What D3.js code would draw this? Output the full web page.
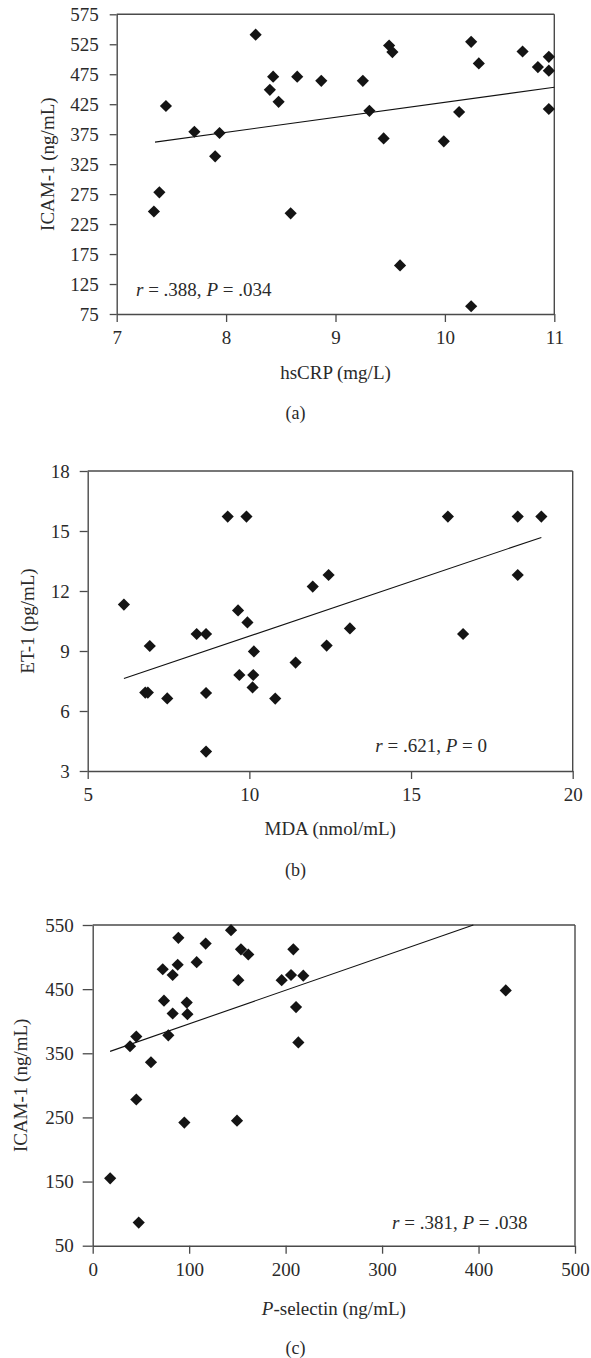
<!DOCTYPE html>
<html>
<head>
<meta charset="utf-8">
<script src="https://cdn.jsdelivr.net/npm/d3@7"></script>
<style>
  body { margin: 0; background: #fff; }
  text { font-family: 'Liberation Serif', 'Times New Roman', serif; fill: #2a2a2a; }
</style>
</head>
<body>
<svg width="591" height="1358"></svg>
<script>
// (a) hsCRP vs ICAM-1
const aHsCRP = [7.34, 7.39, 7.45, 7.71, 7.90, 7.94, 8.27, 8.40, 8.43, 8.48, 8.59, 8.65, 8.87, 9.25, 9.31,
  9.44, 9.49, 9.52, 9.59, 9.99, 10.13, 10.24, 10.24, 10.31, 10.71, 10.85, 10.95, 10.95, 10.95];
const aICAM = [246, 278, 422, 379, 338, 377, 541, 449, 471, 429, 243, 471, 464, 464, 414,
  368, 523, 512, 156, 363, 412, 529, 88, 493, 513, 487, 504, 481, 417];
const aTrend = [[7.35, 361.7], [11, 453.3]];
const aYTicks = [75, 125, 175, 225, 275, 325, 375, 425, 475, 525, 575];
const aXTicks = [7, 8, 9, 10, 11];

// (b) MDA vs ET-1
const bMDA = [6.12, 6.92, 6.78, 6.86, 7.46, 8.37, 8.66, 8.66, 8.66, 9.33, 9.91, 9.65, 9.94, 9.69, 10.12,
  10.14, 10.10, 10.80, 11.43, 12.39, 11.96, 12.45, 13.11, 16.14, 16.61, 18.30, 18.30, 19.03];
const bET1 = [11.32, 9.25, 6.92, 6.92, 6.63, 9.85, 9.85, 6.90, 3.97, 15.72, 15.72, 11.03, 10.43, 7.80, 7.80,
  8.98, 7.18, 6.62, 8.42, 9.27, 12.22, 12.80, 10.13, 15.72, 9.85, 15.72, 12.80, 15.72];
const bTrend = [[6.12, 7.62], [19.03, 14.68]];
const bYTicks = [3, 6, 9, 12, 15, 18];
const bXTicks = [5, 10, 15, 20];

// (c) P-selectin vs ICAM-1
const cPsel = [18.1, 47.7, 38.7, 45.2, 45.2, 60.4, 72.6, 73.9, 82.9, 97.5, 98.2, 78.4, 88.8, 88.1, 82.9,
  107.8, 117.1, 143.4, 153.7, 161.3, 151.0, 95.0, 149.6, 195.9, 205.6, 218.3, 208.0, 210.8, 213.2, 428.2];
const cICAM = [155, 86, 361, 376, 278, 336, 481, 432, 412, 429, 411, 378, 530, 488, 472,
  492, 521, 542, 512, 504, 464, 242, 245, 464, 472, 471, 512, 422, 367, 448];
const cTrend = [[18, 353], [394.6, 550]];
const cYTicks = [50, 150, 250, 350, 450, 550];
const cXTicks = [0, 100, 200, 300, 400, 500];

const svg = d3.select('svg');
const axisColor = '#4a4a4a';

const drawPanel = p => {
  const x = d3.scaleLinear().domain(p.xDomain).range([p.left, p.right]);
  const y = d3.scaleLinear().domain(p.yDomain).range([p.bottom, p.top]);
  const g = svg.append('g');

  // frame: top and right
  g.append('line').attr('x1', p.left).attr('x2', p.right).attr('y1', p.top).attr('y2', p.top)
    .attr('stroke', axisColor).attr('stroke-width', 1.4);
  g.append('line').attr('x1', p.right).attr('x2', p.right).attr('y1', p.top).attr('y2', p.bottom)
    .attr('stroke', axisColor).attr('stroke-width', 1.4);

  const yAxisG = g.append('g')
    .attr('transform', `translate(${p.left},0)`)
    .call(d3.axisLeft(y).tickValues(p.yTicks).tickFormat(d3.format('d'))
      .tickSize(p.tick).tickSizeOuter(0).tickPadding(p.yPad));
  const xAxisG = g.append('g')
    .attr('transform', `translate(0,${p.bottom})`)
    .call(d3.axisBottom(x).tickValues(p.xTicks).tickFormat(d3.format('d'))
      .tickSize(8).tickSizeOuter(0).tickPadding(9));

  [yAxisG, xAxisG].forEach(a => {
    a.attr('font-family', null).attr('font-size', null);
    a.selectAll('.domain').attr('stroke', axisColor).attr('stroke-width', 1.4);
    a.selectAll('.tick line').attr('stroke', axisColor).attr('stroke-width', 1.3);
    a.selectAll('.tick text').attr('fill', '#2a2a2a').style('font-size', '19px');
  });

  // trend line
  g.append('line')
    .attr('x1', x(p.trend[0][0])).attr('y1', y(p.trend[0][1]))
    .attr('x2', x(p.trend[1][0])).attr('y2', y(p.trend[1][1]))
    .attr('stroke', '#111').attr('stroke-width', 1.1);

  // diamonds
  const diamond = d3.symbol().type(d3.symbolSquare).size(74);
  g.selectAll('path.pt').data(p.xs)
    .enter().append('path')
    .attr('class', 'pt')
    .attr('d', diamond)
    .attr('fill', '#141414')
    .attr('transform', (d, i) => `translate(${x(d)},${y(p.ys[i])}) rotate(45)`);

  // axis titles
  g.append('text')
    .attr('transform', `translate(${p.yTitleX},${(p.top + p.bottom) / 2}) rotate(-90)`)
    .attr('text-anchor', 'middle').attr('dominant-baseline', 'central')
    .style('font-size', '19px')
    .text(p.yTitle);

  const xt = g.append('text')
    .attr('x', (p.left + p.right) / 2).attr('y', p.bottom + p.xTitleDy)
    .attr('text-anchor', 'middle').attr('dominant-baseline', 'central')
    .style('font-size', '19px');
  p.xTitle.forEach(s => xt.append('tspan').attr('font-style', s.i ? 'italic' : null).text(s.t));

  // r, P annotation
  const an = g.append('text')
    .attr('x', p.annX).attr('y', p.annY)
    .attr('text-anchor', p.annAnchor)
    .style('font-size', '19px');
  p.ann.forEach(s => an.append('tspan').attr('font-style', s.i ? 'italic' : null).text(s.t));

  // panel letter
  svg.append('text')
    .attr('x', 295.5).attr('y', p.labelY)
    .attr('text-anchor', 'middle').attr('dominant-baseline', 'central')
    .style('font-size', '18px')
    .text(p.label);
};

drawPanel({
  xs: aHsCRP, ys: aICAM, trend: aTrend, xTicks: aXTicks, yTicks: aYTicks,
  xDomain: [7, 11], yDomain: [75, 575],
  left: 116.7, right: 554.3, top: 14.3, bottom: 314,
  tick: 7, yPad: 11, yTitleX: 47, xTitleDy: 58,
  yTitle: 'ICAM-1 (ng/mL)', xTitle: [{ t: 'hsCRP (mg/L)' }],
  ann: [{ t: 'r', i: true }, { t: ' = .388, ' }, { t: 'P', i: true }, { t: ' = .034' }],
  annX: 136, annY: 296, annAnchor: 'start',
  label: '(a)', labelY: 413
});

drawPanel({
  xs: bMDA, ys: bET1, trend: bTrend, xTicks: bXTicks, yTicks: bYTicks,
  xDomain: [5, 20], yDomain: [3, 18],
  left: 87.7, right: 572.7, top: 471, bottom: 771,
  tick: 8, yPad: 10, yTitleX: 27, xTitleDy: 57,
  yTitle: 'ET-1 (pg/mL)', xTitle: [{ t: 'MDA (nmol/mL)' }],
  ann: [{ t: 'r', i: true }, { t: ' = .621, ' }, { t: 'P', i: true }, { t: ' = 0' }],
  annX: 487, annY: 752, annAnchor: 'end',
  label: '(b)', labelY: 870
});

drawPanel({
  xs: cPsel, ys: cICAM, trend: cTrend, xTicks: cXTicks, yTicks: cYTicks,
  xDomain: [0, 500], yDomain: [50, 550],
  left: 92.7, right: 575, top: 925, bottom: 1245.7,
  tick: 10, yPad: 9, yTitleX: 20, xTitleDy: 62,
  yTitle: 'ICAM-1 (ng/mL)', xTitle: [{ t: 'P', i: true }, { t: '-selectin (ng/mL)' }],
  ann: [{ t: 'r', i: true }, { t: ' = .381, ' }, { t: 'P', i: true }, { t: ' = .038' }],
  annX: 527.5, annY: 1229, annAnchor: 'end',
  label: '(c)', labelY: 1348
});
</script>
</body>
</html>
